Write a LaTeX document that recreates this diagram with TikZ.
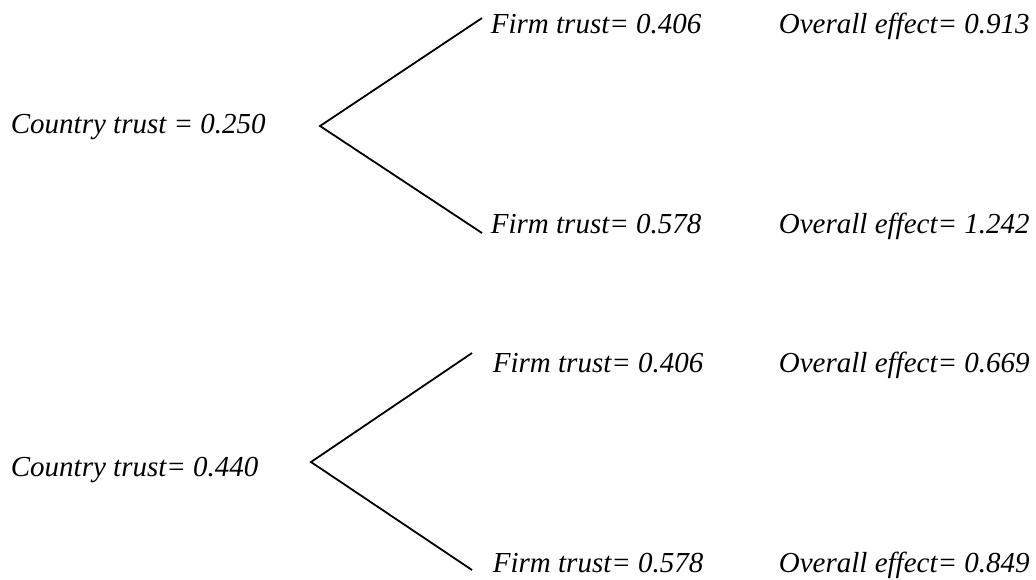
\documentclass[tikz,border=0pt]{standalone}
\usepackage{fontspec}
\setmainfont{Liberation Serif}
\usepackage{tikz}

\begin{document}
\begin{tikzpicture}[x=0.5pt,y=-0.5pt,line width=0.9pt,
  lbl/.style={anchor=base west,inner sep=0pt,font=\fontsize{14.5}{17}\selectfont\itshape}]
  \useasboundingbox (0,0) rectangle (1036,579);
  % first country
  \node[lbl] (c1) at (10,133) {Country trust = 0.250};
  \node[lbl] (f11) at (490,33) {Firm trust= 0.406};
  \node[lbl] (o11) at (778,33) {Overall effect= 0.913};
  \node[lbl] (f12) at (490,233) {Firm trust= 0.578};
  \node[lbl] (o12) at (778,233) {Overall effect= 1.242};
  \coordinate (v1) at (320,126);
  \coordinate (e11) at (482,18);
  \coordinate (e12) at (482,233);
  \draw (e11) -- (v1) -- (e12);
  % second country
  \node[lbl] (c2) at (10,476) {Country trust= 0.440};
  \node[lbl] (f21) at (492,372) {Firm trust= 0.406};
  \node[lbl] (o21) at (778,372) {Overall effect= 0.669};
  \node[lbl] (f22) at (492,572) {Firm trust= 0.578};
  \node[lbl] (o22) at (778,572) {Overall effect= 0.849};
  \coordinate (v2) at (311,462);
  \coordinate (e21) at (472,353);
  \coordinate (e22) at (472,570);
  \draw (e21) -- (v2) -- (e22);
\end{tikzpicture}
\end{document}
